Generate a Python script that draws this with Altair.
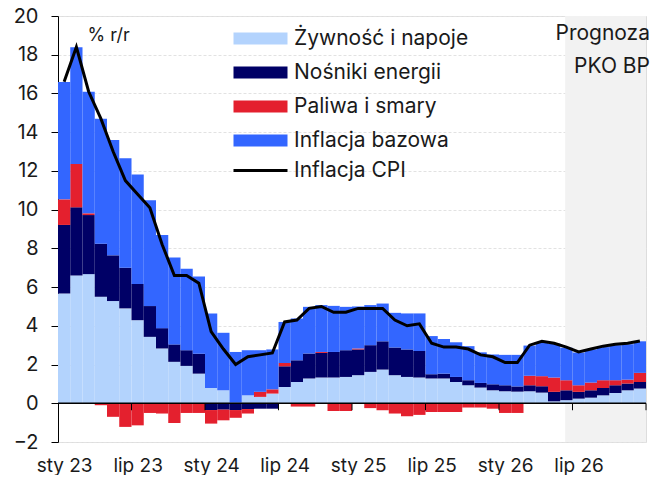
import altair as alt
import pandas as pd

# ---- data (monthly, Jan 2023 .. Dec 2026), contributions in pp ----
food = [5.67, 6.60, 6.67, 5.50, 5.28, 4.90, 4.29, 3.43, 2.83, 2.14, 1.93, 1.53,
        0.79, 0.67, 0.03, 0.41, 0.33, 0.50, 0.84, 1.10, 1.28, 1.33, 1.33, 1.36,
        1.45, 1.62, 1.74, 1.45, 1.36, 1.33, 1.28, 1.28, 1.10, 0.93, 0.81, 0.67,
        0.62, 0.60, 0.62, 0.55, 0.10, 0.16, 0.24, 0.29, 0.41, 0.53, 0.67, 0.76]
energy = [3.54, 3.52, 3.05, 2.74, 2.36, 2.10, 1.87, 1.59, 1.05, 0.90, 0.81, 1.03,
          -0.35, -0.33, -0.35, -0.30, -0.28, -0.28, 1.07, 1.12, 1.29, 1.27, 1.32, 1.38,
          1.33, 1.38, 1.46, 1.43, 1.42, 1.37, 0.22, 0.25, 0.26, 0.26, 0.24, 0.31,
          0.31, 0.27, 0.31, 0.33, 0.49, 0.51, 0.35, 0.38, 0.38, 0.40, 0.35, 0.34]
fuel = [1.32, 2.24, 0.09, -0.10, -0.70, -1.22, -1.14, -0.50, -0.53, -1.02, -0.50, -0.50,
        -0.70, -0.55, -0.40, -0.23, 0.26, 0.22, 0.17, -0.17, -0.17, 0.05, -0.40, -0.40,
        0.05, -0.25, -0.36, -0.53, -0.67, -0.60, -0.45, -0.45, -0.45, -0.22, -0.22, -0.28,
        -0.50, -0.50, 0.49, 0.52, 0.74, 0.52, 0.34, 0.40, 0.40, 0.26, 0.20, 0.47]
core = [6.06, 6.02, 6.28, 6.45, 5.96, 5.66, 5.65, 5.46, 4.81, 4.49, 4.21, 3.99,
        3.85, 2.97, 2.62, 2.33, 2.15, 2.06, 2.12, 2.16, 2.41, 2.42, 2.38, 2.24,
        2.17, 2.07, 1.95, 1.79, 1.86, 1.94, 1.97, 1.79, 1.79, 1.76, 1.58, 1.54,
        1.57, 1.63, 1.56, 1.75, 1.75, 1.68, 1.69, 1.71, 1.71, 1.81, 1.83, 1.63]
cpi = [16.6, 18.4, 16.1, 14.7, 13.0, 11.5, 10.8, 10.1, 8.2, 6.6, 6.6, 6.2,
       3.7, 2.8, 2.0, 2.4, 2.5, 2.6, 4.2, 4.3, 4.9, 5.0, 4.7, 4.7,
       4.9, 4.9, 4.9, 4.3, 4.0, 4.1, 3.1, 2.9, 2.9, 2.8, 2.5, 2.4,
       2.1, 2.1, 3.0, 3.2, 3.1, 2.9, 2.65, 2.8, 2.95, 3.05, 3.1, 3.22]

series_names = ["Żywność i napoje", "Nośniki energii", "Paliwa i smary", "Inflacja bazowa"]
series_colors = ["#b3d3fd", "#000066", "#e4202e", "#3366ff"]
line_name = "Inflacja CPI"
tick_labels = ["sty 23", "lip 23", "sty 24", "lip 24", "sty 25", "lip 25", "sty 26", "lip 26"]
tick_positions = [6, 12, 18, 24, 30, 36, 42, 48]
y_ticks = list(range(-2, 21, 2))
forecast_start = 41.4
forecast_label = ["Prognoza", "PKO BP"]

n = len(cpi)
W, H = 588, 426
bw = W / n
FONT = "Inter"
TXT = "#1a1a1a"

rows = []
for k, (name, vals) in enumerate(zip(series_names, [food, energy, fuel, core])):
    for i, v in enumerate(vals):
        rows.append({"x0": i, "x1": i + 1, "series": name, "ord": k, "value": v})
bars_df = pd.DataFrame(rows)
cpi_df = pd.DataFrame({"xc": [i + 0.5 for i in range(n)], "cpi": cpi, "name": line_name})
fc_df = pd.DataFrame({"a": [forecast_start], "b": [n]})
tick_df = pd.DataFrame({"t": tick_positions})
one_df = pd.DataFrame({"k": [0]})

xscale = alt.Scale(domain=[0, n], nice=False, zero=False)
yscale = alt.Scale(domain=[-2, 20], nice=False, zero=False)

lab_js = "[" + ",".join("'%s'" % s for s in tick_labels) + "]"
xaxis = alt.Axis(values=list(range(0, n, 6)), labelExpr=lab_js + "[round(datum.value/6)]",
                 labelOffset=bw / 2, ticks=False, domain=False, grid=False,
                 labelPadding=14, labelFontSize=19, labelFont=FONT, labelColor=TXT,
                 labelFlush=False, labelOverlap=False, title=None)
yaxis = alt.Axis(values=y_ticks, tickSize=7, tickColor="black",
                 domainColor="black", labelPadding=13, labelFontSize=20, labelFont=FONT,
                 labelColor=TXT, labelFlush=False, labelOverlap=False, grid=True,
                 gridColor="#e2e2e2", gridDash=[3, 2], title="% r/r", titleAngle=0,
                 titleAlign="left", titleBaseline="alphabetic", titleX=29, titleY=24,
                 titleFontSize=18, titleFont=FONT, titleFontWeight="normal", titleColor=TXT)

forecast = alt.Chart(fc_df).mark_rect(color="#f2f2f2").encode(
    x=alt.X("a:Q", scale=xscale, axis=xaxis), x2="b:Q")

bars = alt.Chart(bars_df).transform_stack(
    stack="value", groupby=["x0"], as_=["y0", "y1"], offset="zero",
    sort=[alt.SortField("ord", order="ascending")],
).mark_bar().encode(
    x=alt.X("x0:Q", scale=xscale, axis=xaxis),
    x2="x1:Q",
    y=alt.Y("y0:Q", scale=yscale, axis=yaxis),
    y2="y1:Q",
    color=alt.Color("series:N", scale=alt.Scale(domain=series_names, range=series_colors),
                    legend=alt.Legend(title=None, orient="none", legendX=171, legendY=12,
                                      symbolType="M-1,-1L8,-1L8,1L-1,1Z", symbolSize=144,
                                      symbolStrokeWidth=0, labelOffset=44, labelFontSize=21,
                                      labelFont=FONT, labelColor=TXT, rowPadding=12,
                                      padding=0, labelLimit=400)),
)

zero = alt.Chart(one_df).mark_rule(color="black", strokeWidth=1.5).encode(
    y=alt.YDatum(0, scale=yscale, axis=yaxis))

ticks = alt.Chart(tick_df).mark_rule(color="black", strokeWidth=1).encode(
    x=alt.X("t:Q", scale=xscale, axis=xaxis),
    y=alt.YDatum(0, scale=yscale, axis=yaxis), y2=alt.Y2Datum(-0.36))

line = alt.Chart(cpi_df).mark_line(strokeWidth=3).encode(
    x=alt.X("xc:Q", scale=xscale, axis=xaxis),
    y=alt.Y("cpi:Q", scale=yscale, axis=yaxis),
    stroke=alt.Stroke("name:N", scale=alt.Scale(domain=[line_name], range=["#000000"]),
                      legend=alt.Legend(title=None, orient="none", legendX=171, legendY=12 + 4 * 33,
                                        symbolType="M-1,0L8,0", symbolSize=144,
                                        symbolStrokeWidth=3, labelOffset=44, labelFontSize=21,
                                        labelFont=FONT, labelColor=TXT, padding=0, labelLimit=400)),
)

note = alt.Chart(one_df).mark_text(text=forecast_label, align="right", baseline="alphabetic",
                                   fontSize=21, lineHeight=33, font=FONT, color=TXT).encode(
    x=alt.value(592), y=alt.value(24))

chart = alt.layer(forecast, bars, zero, ticks, line, note).properties(
    width=W, height=H,
    padding={"left": 50, "top": 8, "right": 10, "bottom": 33},
    autosize=alt.AutoSizeParams(type="none"),
).configure_view(stroke=None).configure_axisY(labelOverlap=False).configure(font=FONT)

chart.save("out.html", embed_options={"renderer": "svg", "actions": False})
